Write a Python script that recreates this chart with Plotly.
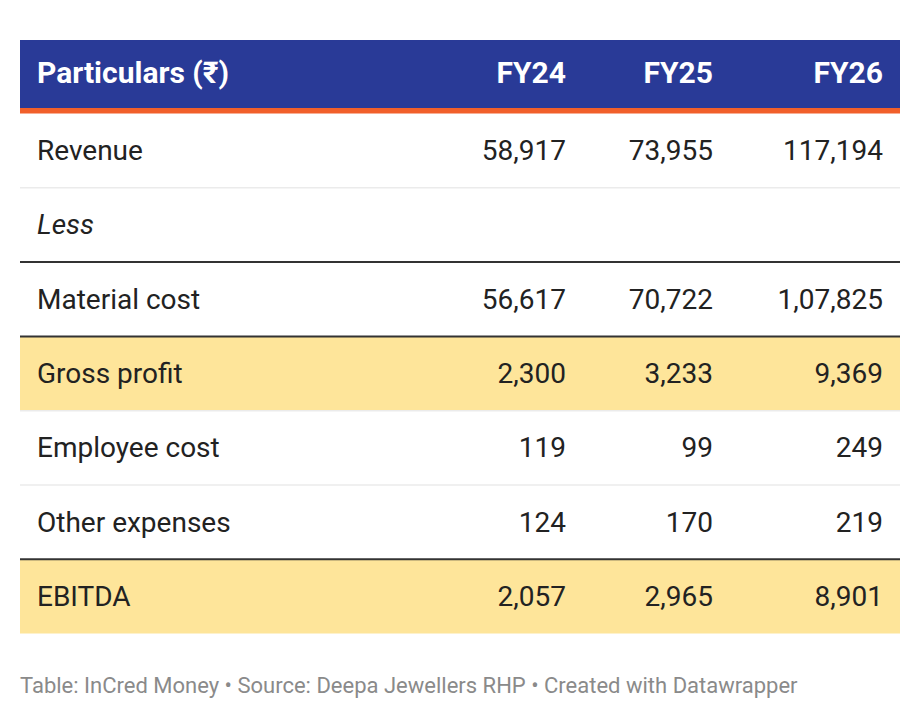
import plotly.graph_objects as go

# ---- data ----
columns = ["Particulars (₹)", "FY24", "FY25", "FY26"]
particulars = ["Revenue", "Less", "Material cost", "Gross profit",
               "Employee cost", "Other expenses", "EBITDA"]
fy24 = ["58,917", "", "56,617", "2,300", "119", "124", "2,057"]
fy25 = ["73,955", "", "70,722", "3,233", "99", "170", "2,965"]
fy26 = ["117,194", "", "1,07,825", "9,369", "249", "219", "8,901"]
italic_rows = ["Less"]
highlight_rows = ["Gross profit", "EBITDA"]
# separator below each row: "light", "dark" or None
separators = ["light", "dark", "dark", "light", "light", "dark", None]
footer = "Table: InCred Money • Source: Deepa Jewellers RHP • Created with Datawrapper"

# ---- layout constants (axes in page pixels) ----
PAGE_W, PAGE_H = 920, 720
OFF = 8  # page body margin
LEFT, RIGHT = 20, 900
HEAD_TOP, HEAD_H, ORANGE_H = 40, 68, 5.5
BODY_TOP = HEAD_TOP + HEAD_H + ORANGE_H
ROW_H = 74.3
TEXT_X = 37
COL_RIGHT = [566, 713, 883]
TEXT_DY = 2.5
HEAD_DY = 1.5
FONT = "Roboto"
BLUE = "#293a97"
ORANGE = "#f15f2a"
YELLOW = "#fee59a"
DARK = "#333333"
LIGHT = "#ebebeb"
TXT = "#222222"
BODY_SIZE = 28
HEAD_SIZE = 30

fig = go.Figure()
shapes = []

shapes.append(dict(type="rect", xref="x", yref="y", x0=LEFT, x1=RIGHT,
                   y0=HEAD_TOP, y1=HEAD_TOP + HEAD_H, fillcolor=BLUE, line_width=0, layer="below"))
shapes.append(dict(type="rect", xref="x", yref="y", x0=LEFT, x1=RIGHT,
                   y0=HEAD_TOP + HEAD_H, y1=BODY_TOP, fillcolor=ORANGE, line_width=0, layer="below"))

row_centers = []
for i, name in enumerate(particulars):
    top = BODY_TOP + i * ROW_H
    bot = top + ROW_H
    row_centers.append((top + bot) / 2 + TEXT_DY)
    if name in highlight_rows:
        shapes.append(dict(type="rect", xref="x", yref="y", x0=LEFT, x1=RIGHT,
                           y0=top, y1=bot, fillcolor=YELLOW, line_width=0, layer="below"))
    sep = separators[i]
    if sep:
        shapes.append(dict(type="line", xref="x", yref="y", x0=LEFT, x1=RIGHT,
                           y0=bot, y1=bot,
                           line=dict(color=DARK if sep == "dark" else LIGHT,
                                     width=2 if sep == "dark" else 1.5),
                           layer="above"))

head_y = HEAD_TOP + HEAD_H / 2 + HEAD_DY

fig.add_trace(go.Scatter(x=[TEXT_X], y=[head_y], mode="text",
                         text=["<b>" + columns[0] + "</b>"], textposition="middle right",
                         textfont=dict(family=FONT, size=HEAD_SIZE, color="white"),
                         hoverinfo="skip", cliponaxis=False, showlegend=False))
fig.add_trace(go.Scatter(x=COL_RIGHT, y=[head_y] * 3, mode="text",
                         text=["<b>" + c + "</b>" for c in columns[1:]], textposition="middle left",
                         textfont=dict(family=FONT, size=HEAD_SIZE, color="white"),
                         hoverinfo="skip", cliponaxis=False, showlegend=False))

labels = ["<i>" + p + "</i>" if p in italic_rows else p for p in particulars]
fig.add_trace(go.Scatter(x=[TEXT_X] * len(particulars), y=row_centers, mode="text",
                         text=labels, textposition="middle right",
                         textfont=dict(family=FONT, size=BODY_SIZE, color=TXT),
                         hoverinfo="skip", cliponaxis=False, showlegend=False))

for xr, vals in zip(COL_RIGHT, [fy24, fy25, fy26]):
    fig.add_trace(go.Scatter(x=[xr] * len(vals), y=row_centers, mode="text",
                             text=vals, textposition="middle left",
                             textfont=dict(family=FONT, size=BODY_SIZE, color=TXT),
                             hoverinfo="skip", cliponaxis=False, showlegend=False))

fig.add_trace(go.Scatter(x=[LEFT], y=[687], mode="text", text=[footer],
                         textposition="middle right",
                         textfont=dict(family=FONT, size=22, color="#8a8a8a"),
                         hoverinfo="skip", cliponaxis=False, showlegend=False))

fig.update_layout(
    width=PAGE_W - OFF, height=PAGE_H - OFF, margin=dict(l=0, r=0, t=0, b=0),
    paper_bgcolor="white", plot_bgcolor="white",
    xaxis=dict(range=[OFF, PAGE_W], visible=False, fixedrange=True),
    yaxis=dict(range=[PAGE_H, OFF], visible=False, fixedrange=True),
    shapes=shapes,
)

fig.write_html("out.html", config={"displayModeBar": False})
